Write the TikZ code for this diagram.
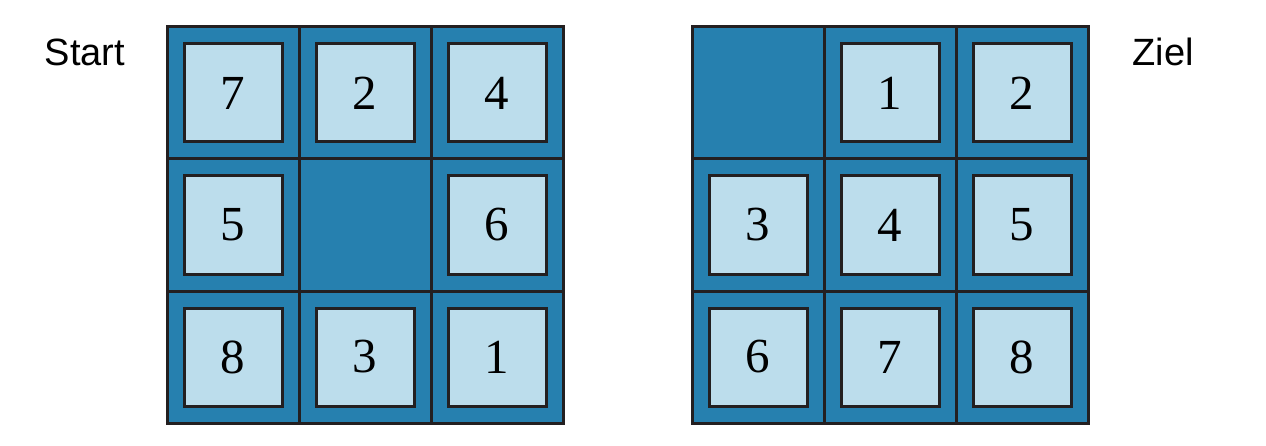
\documentclass[tikz,border=0pt]{standalone}
\usepackage{fontspec}
\setmainfont{Liberation Serif}
\newfontfamily\labelfont{Liberation Sans}
\definecolor{cellblue}{HTML}{2680AF}
\definecolor{tileblue}{HTML}{BCDDEC}
\definecolor{edgeblack}{HTML}{231F20}
\begin{document}
\begin{tikzpicture}[x=1pt,y=1pt,
  cell/.style={draw=edgeblack,fill=cellblue,line width=3pt,minimum size=132pt,inner sep=0pt,outer sep=0pt},
  tile/.style={draw=edgeblack,fill=tileblue,line width=3pt,minimum size=98pt,inner sep=0pt,font=\fontsize{49}{49}\selectfont},
  lbl/.style={font=\labelfont\fontsize{38}{38}\selectfont,inner sep=0pt}]
\useasboundingbox (0,0) rectangle (1266,445);
% Start grid
\foreach \n/\c/\r in {7/0/0,2/1/0,4/2/0,5/0/1,X/1/1,6/2/1,8/0/2,3/1/2,1/2/2}{
  \node[cell] (s\c\r) at ({233+132*\c},{352-132*\r}) {};
  \if X\n\else
    \node[tile] (st\c\r) at (s\c\r) {\n};
  \fi
}
% Goal grid
\foreach \n/\c/\r in {X/0/0,1/1/0,2/2/0,3/0/1,4/1/1,5/2/1,6/0/2,7/1/2,8/2/2}{
  \node[cell] (z\c\r) at ({758+132*\c},{352-132*\r}) {};
  \if X\n\else
    \node[tile] (zt\c\r) at (z\c\r) {\n};
  \fi
}
\node[lbl] (start) at (85,393) {Start};
\node[lbl] (ziel) at (1163,393) {Ziel};
\end{tikzpicture}
\end{document}
